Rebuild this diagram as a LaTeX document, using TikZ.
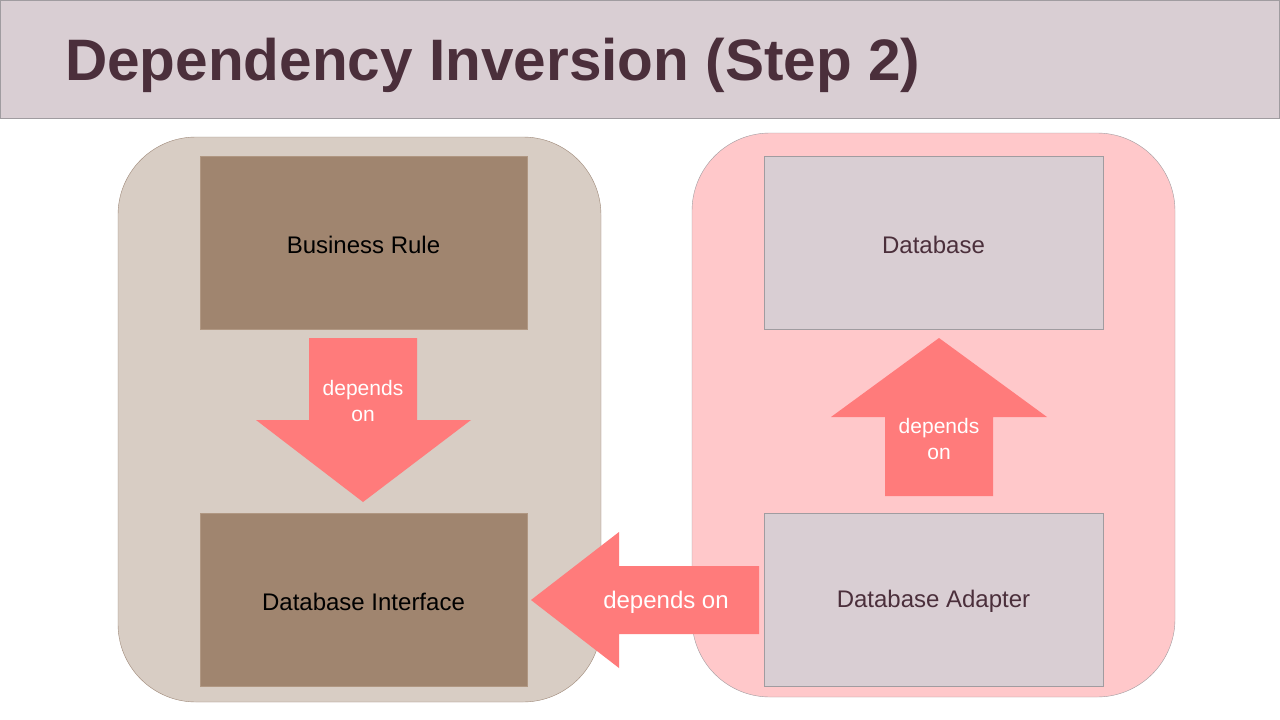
\documentclass[tikz,border=0pt]{standalone}
\usepackage{fontspec}
\setmainfont{Liberation Sans}
\usetikzlibrary{positioning}
\definecolor{titlebg}{HTML}{D9CED3}
\definecolor{titleline}{HTML}{A09CA0}
\definecolor{titletext}{HTML}{4B2F3B}
\definecolor{corebg}{HTML}{D8CDC4}
\definecolor{coreline}{HTML}{9E8878}
\definecolor{corebox}{HTML}{A0856F}
\definecolor{coreboxline}{HTML}{B09782}
\definecolor{outerbg}{HTML}{FFC8CA}
\definecolor{outerbox}{HTML}{D9CED3}
\definecolor{arrowred}{HTML}{FF7B7B}

\begin{document}
\begin{tikzpicture}[x=1pt,y=-1pt,
  layer/.style={draw=#1, rounded corners=78pt, minimum width=483pt, minimum height=565pt},
  corepart/.style={fill=corebox, draw=coreboxline, minimum width=327pt, minimum height=173pt},
  outerpart/.style={fill=outerbox, draw=titleline, minimum width=339pt, minimum height=173pt},
  parttext/.style={font=\fontsize{24}{29}\selectfont},
  blockarrow/.style={fill=arrowred, draw=none},
  arrowtext/.style={text=white, align=center, font=\fontsize{21}{26}\selectfont}]

\useasboundingbox (0,0) rectangle (1280,720);

% title bar
\fill[white] (0,0) rectangle (1280,720);
\draw[fill=titlebg, draw=titleline] (0.5,0.5) rectangle (1279.5,118);
\node[anchor=base west, text=titletext, font=\fontsize{58.5}{70}\selectfont\bfseries, inner sep=0pt]
  (title) at (65,80) {Dependency Inversion (Step 2)};

% layers
\node[layer=coreline, fill=corebg] (core) at (359.5,419.5) {};
\node[layer=titleline, fill=outerbg, minimum height=564pt] (outer) at (933.5,415) {};

% parts
\node[corepart] (rule) at (363.5,242.5) {};
\node[corepart] (iface) at (363.5,599.5) {};
\node[outerpart] (db) at (933.5,242.5) {};
\node[outerpart] (adapter) at (933.5,599.5) {};
\node[parttext] at ([yshift=-2pt]rule.center) {Business Rule};
\node[parttext] at ([yshift=-2pt]iface.center) {Database Interface};
\node[parttext, text=titletext] at ([yshift=-2pt]db.center) {Database};
\node[parttext, text=titletext] at ([yshift=-2pt]adapter.center) {Database Adapter};

% depends on arrows
\fill[blockarrow] (309,338) -- (417,338) -- (417,420) -- (471,420) -- (363,502)
  -- (256,420) -- (309,420) -- cycle;
\node[arrowtext] (ruledep) at (363,401) {depends\\on};

\fill[blockarrow] (885,496) -- (993,496) -- (993,417) -- (1047,417) -- (939,338)
  -- (831,417) -- (885,417) -- cycle;
\node[arrowtext] (adapterdep) at (939,439) {depends\\on};

\fill[blockarrow] (759,566) -- (619,566) -- (619,532) -- (531,600) -- (619,668)
  -- (619,634) -- (759,634) -- cycle;
\node[arrowtext, font=\fontsize{24}{29}\selectfont] (ifacedep) at (666,602) {depends on};

\end{tikzpicture}
\end{document}
